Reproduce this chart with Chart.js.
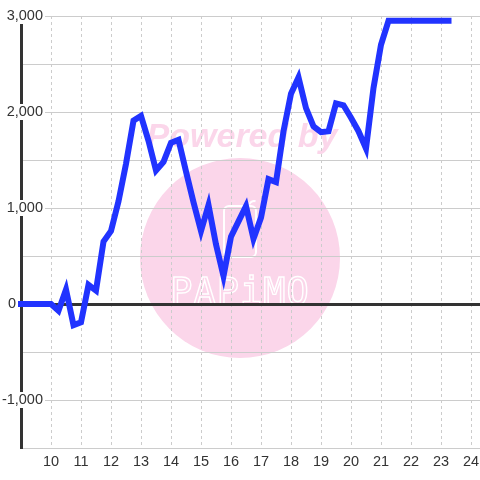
<!DOCTYPE html>
<html>
<head>
<meta charset="utf-8">
<script src="https://cdn.jsdelivr.net/npm/chart.js@4/dist/chart.umd.min.js"></script>
<style>
  html, body { margin: 0; padding: 0; background: #ffffff; }
  #wrap { width: 480px; height: 480px; }
</style>
</head>
<body>
<div id="wrap"><canvas id="c" width="480" height="480"></canvas></div>
<script>
// ---- data ----
const hours = [9, 9.25, 9.5, 9.75, 10, 10.25, 10.5, 10.75, 11, 11.25, 11.5, 11.75,
  12, 12.25, 12.5, 12.75, 13, 13.25, 13.5, 13.75, 14, 14.25, 14.5, 14.75,
  15, 15.25, 15.5, 15.75, 16, 16.25, 16.5, 16.75, 17, 17.25, 17.5, 17.75,
  18, 18.25, 18.5, 18.75, 19, 19.25, 19.5, 19.75, 20, 20.25, 20.5, 20.75,
  21, 21.25, 21.5, 21.75, 22, 22.25, 22.5, 22.75, 23, 23.25];
const values = [0, 0, 0, 0, 0, -70, 150, -220, -190, 200, 140, 650,
  760, 1070, 1460, 1910, 1960, 1700, 1390, 1480, 1680, 1710, 1380, 1060,
  760, 1030, 620, 290, 700, 860, 1020, 680, 900, 1300, 1270, 1800,
  2190, 2360, 2040, 1850, 1790, 1800, 2090, 2070, 1940, 1800, 1620, 2250,
  2700, 2950, 2950, 2950, 2950, 2950, 2950, 2950, 2950, 2950];
const xTicks = [10, 11, 12, 13, 14, 15, 16, 17, 18, 19, 20, 21, 22, 23, 24];
const yTicks = [-1500, -1000, -500, 0, 500, 1000, 1500, 2000, 2500, 3000];
const yLabelValues = [3000, 2000, 1000, 0, -1000];
const yLabelTexts = ['3,000', '2,000', '1,000', '0', '-1,000'];
const xMin = 9, xMax = 24.3, yMin = -1500, yMax = 3000;

const points = hours.map((h, i) => ({ x: h, y: values[i] }));

const FONT = '"Liberation Sans", Arial, sans-serif';
const TEXT = '#333333';
const GRID = '#cccccc';
const PINK = '#fbd6ea';

const watermark = {
  id: 'watermark',
  beforeDraw(chart) {
    const ctx = chart.ctx;
    const cx = 240;
    ctx.save();
    ctx.fillStyle = PINK;
    ctx.beginPath();
    ctx.arc(cx, 258, 100, 0, Math.PI * 2);
    ctx.fill();
    ctx.font = 'italic bold 34px ' + FONT;
    ctx.textAlign = 'center';
    ctx.textBaseline = 'alphabetic';
    ctx.fillText('Powered by', 242, 147);
    // phone icon
    ctx.strokeStyle = '#ffffff';
    ctx.lineWidth = 2;
    ctx.beginPath();
    ctx.roundRect(224, 206, 32, 51, 5);
    ctx.stroke();
    ctx.beginPath();
    ctx.arc(254, 206, 5, Math.PI * 1.1, Math.PI * 1.6);
    ctx.stroke();
    // logo text
    ctx.strokeStyle = '#ffffff';
    ctx.lineWidth = 1.4;
    ctx.font = '37px "DejaVu Sans Mono", monospace';
    ctx.letterSpacing = '1px';
    ctx.strokeText('PAPiMO', cx, 304);
    ctx.restore();
  }
};

const yLabels = {
  id: 'yLabels',
  afterDraw(chart) {
    const ys = chart.scales.y;
    const ctx = chart.ctx;
    ctx.save();
    ctx.font = '14.5px ' + FONT;
    ctx.textBaseline = 'middle';
    ctx.textAlign = 'right';
    yLabelValues.forEach((v, i) => {
      const py = ys.getPixelForValue(v);
      const t = yLabelTexts[i];
      const w = ctx.measureText(t).width;
      const right = v === 0 ? 16 : 43;
      ctx.fillStyle = '#ffffff';
      ctx.fillRect(right - w - 2, py - 8, w + 4, 16);
      ctx.fillStyle = TEXT;
      ctx.fillText(t, right, py);
    });
    ctx.restore();
  }
};

new Chart(document.getElementById('c'), {
  type: 'line',
  data: {
    datasets: [{
      data: points,
      borderColor: '#2133ff',
      borderWidth: 6,
      borderCapStyle: 'square',
      pointRadius: 0,
      fill: false,
      tension: 0,
      clip: false
    }]
  },
  options: {
    responsive: false,
    animation: false,
    events: [],
    layout: { padding: { top: 16, right: 0, left: 0, bottom: 0 } },
    plugins: { legend: { display: false }, tooltip: { enabled: false }, title: { display: false } },
    scales: {
      x: {
        type: 'linear',
        min: xMin,
        max: xMax,
        afterBuildTicks: (s) => { s.ticks = xTicks.map(v => ({ value: v })); },
        afterFit: (s) => { s.height = 32; s.paddingLeft = 0; s.paddingRight = 0; },
        ticks: {
          includeBounds: false,
          autoSkip: false,
          maxRotation: 0,
          padding: 5,
          color: TEXT,
          font: { family: FONT, size: 14.5 },
          callback: (v) => String(v)
        },
        grid: {
          color: GRID,
          lineWidth: 1,
          drawTicks: false,
          tickLength: 0
        },
        border: { display: false, dash: [3, 3] }
      },
      y: {
        type: 'linear',
        min: yMin,
        max: yMax,
        afterBuildTicks: (s) => { s.ticks = yTicks.map(v => ({ value: v })); },
        afterFit: (s) => { s.width = 21; s.paddingTop = 0; s.paddingBottom = 0; },
        ticks: { display: false },
        grid: {
          drawTicks: false,
          tickLength: 0,
          color: (c) => (c.tick && c.tick.value === 0 ? '#333333' : GRID),
          lineWidth: (c) => (c.tick && c.tick.value === 0 ? 3 : 1)
        },
        border: { display: true, color: '#333333', width: 3 }
      }
    }
  },
  plugins: [watermark, yLabels]
});
</script>
</body>
</html>
